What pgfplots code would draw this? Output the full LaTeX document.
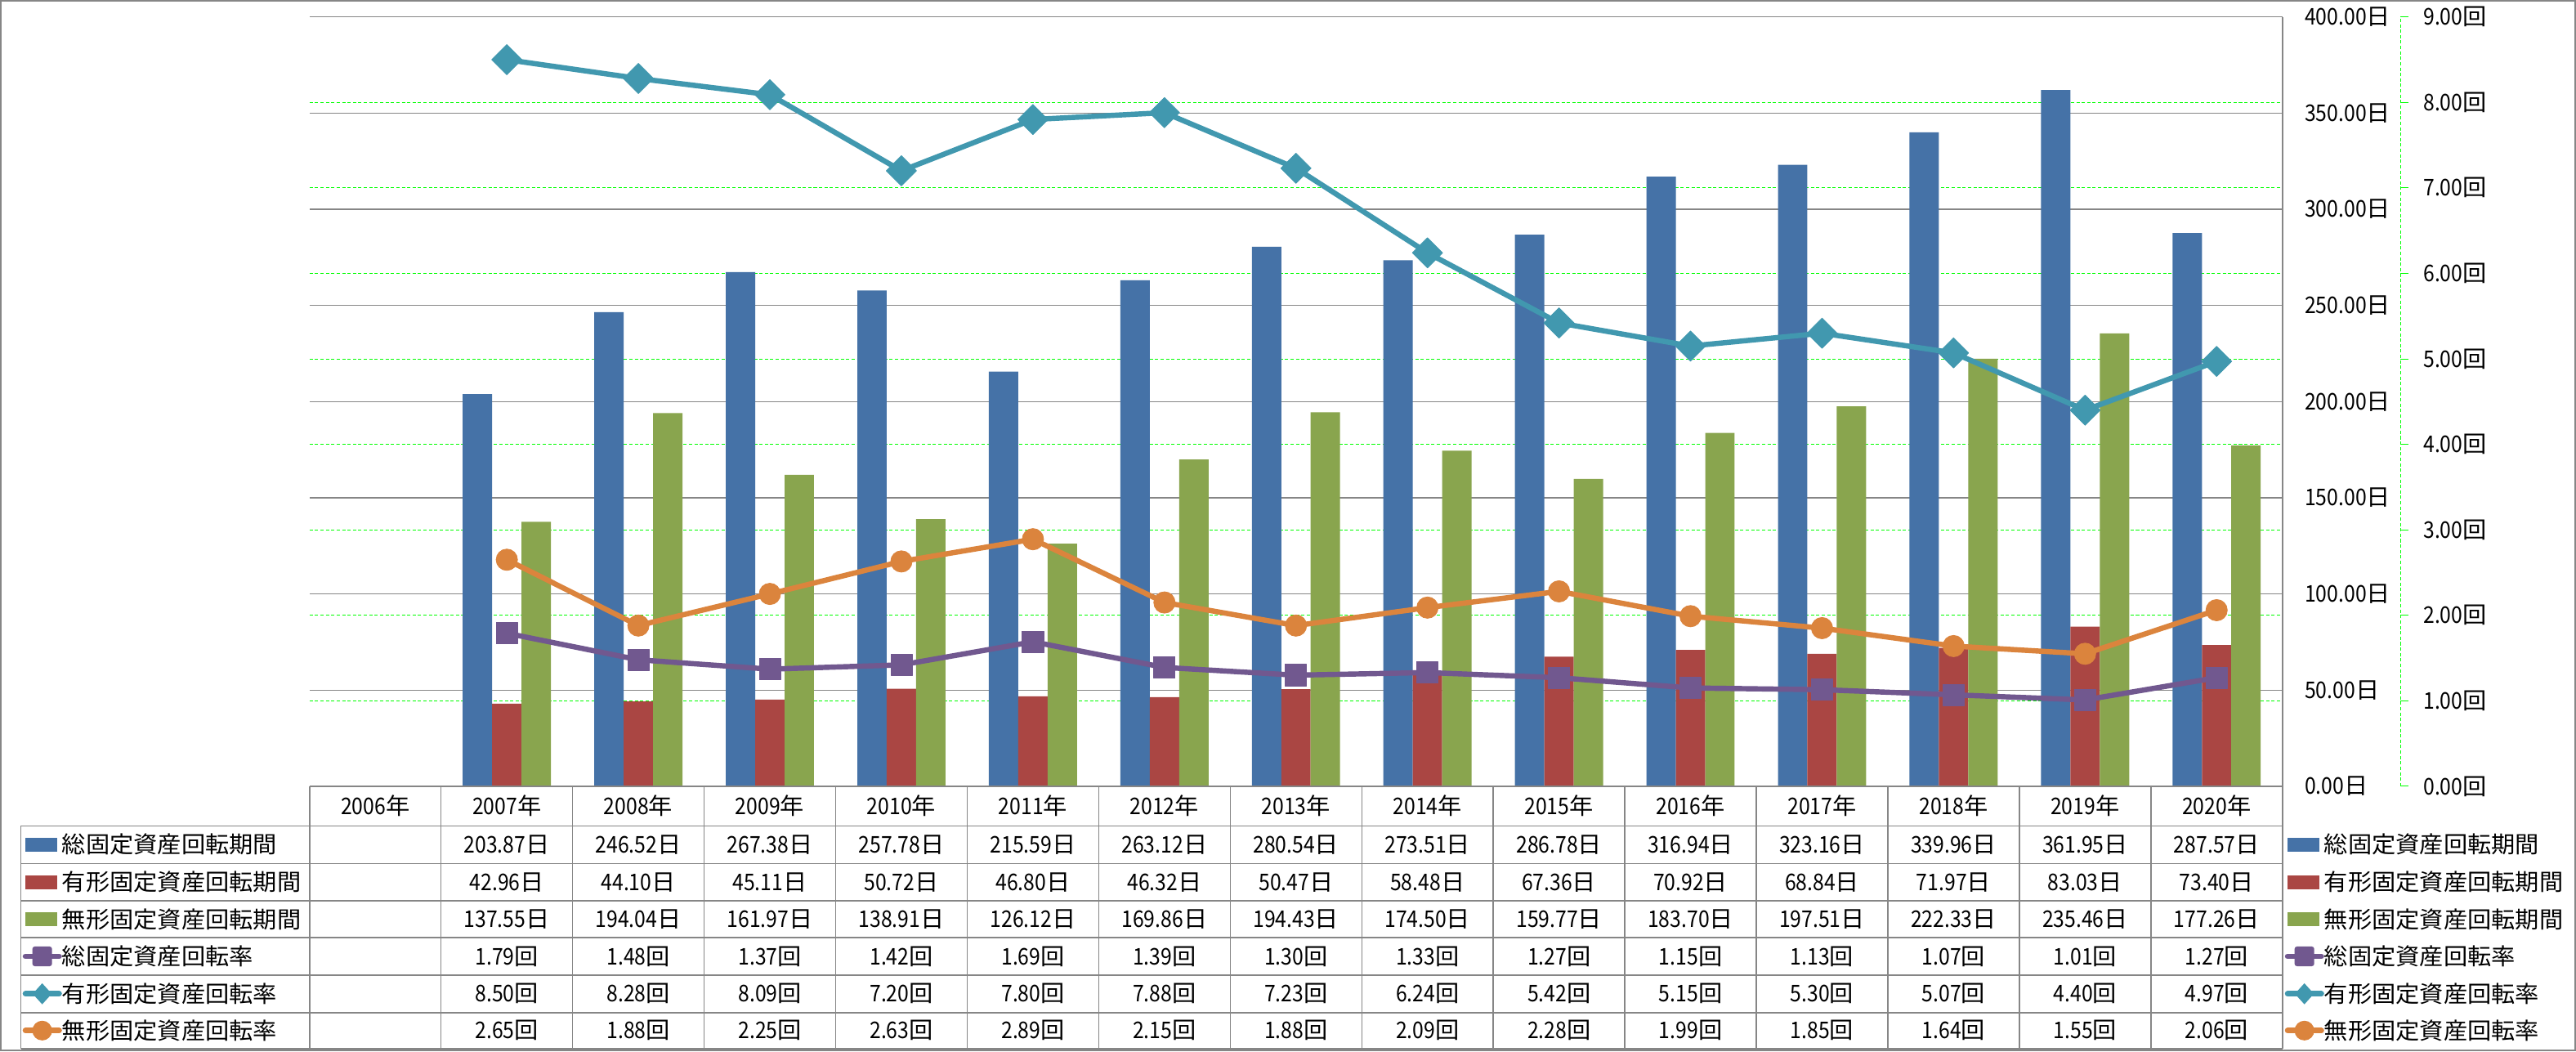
\documentclass[border=0pt]{standalone}
\usepackage{pgfplots}
\pgfplotsset{compat=1.18}
\usepackage{pgfplotstable}
\usepackage{fontspec}
\setmainfont{Noto Sans CJK JP}[FakeStretch=1.04]
\newfontfamily\numfont{Noto Sans CJK JP}[FakeStretch=0.88]
\newcommand\N[1]{{\numfont #1}}
\newcommand\tf{\fontsize{14pt}{16pt}\selectfont}
\definecolor{cblue}{HTML}{4572A7}
\definecolor{cred}{HTML}{AA4643}
\definecolor{cgreen}{HTML}{89A54E}
\definecolor{cpurple}{HTML}{71588F}
\definecolor{cteal}{HTML}{4198AF}
\definecolor{corange}{HTML}{DB843D}
\definecolor{cgrid}{RGB}{134,134,134}
\definecolor{clime}{RGB}{0,255,0}
\pgfkeys{/pgf/number format/.cd, fixed, fixed zerofill, precision=2, assume math mode=true}

\pgfplotstableread{
yr tot tan mu rtot rtan rmu
2007 203.87 42.96 137.55 1.79 8.50 2.65
2008 246.52 44.10 194.04 1.48 8.28 1.88
2009 267.38 45.11 161.97 1.37 8.09 2.25
2010 257.78 50.72 138.91 1.42 7.20 2.63
2011 215.59 46.80 126.12 1.69 7.80 2.89
2012 263.12 46.32 169.86 1.39 7.88 2.15
2013 280.54 50.47 194.43 1.30 7.23 1.88
2014 273.51 58.48 174.50 1.33 6.24 2.09
2015 286.78 67.36 159.77 1.27 5.42 2.28
2016 316.94 70.92 183.70 1.15 5.15 1.99
2017 323.16 68.84 197.51 1.13 5.30 1.85
2018 339.96 71.97 222.33 1.07 5.07 1.64
2019 361.95 83.03 235.46 1.01 4.40 1.55
2020 287.57 73.40 177.26 1.27 4.97 2.06
}\data

\newcommand\barkey[3]{\fill[#3] (#1,#2-4.15) rectangle ++(19.3,8.3);}
\newcommand\sqkey[2]{\draw[cpurple,line width=3.4pt,line cap=round] (#1,#2)--(#1+20.5,#2);
  \fill[cpurple,rounded corners=1.5pt] (#1+4.2,#2-6) rectangle ++(12,12);}
\newcommand\diakey[2]{\draw[cteal,line width=3.4pt,line cap=round] (#1,#2)--(#1+20.5,#2);
  \fill[cteal] (#1+10.2,#2+6.4) -- ++(5.8,-6.4) -- ++(-5.8,-6.4) -- ++(-5.8,6.4) -- cycle;}
\newcommand\cirkey[2]{\draw[corange,line width=3.4pt,line cap=round] (#1,#2)--(#1+20.5,#2);
  \fill[corange] (#1+10.2,#2) circle (6);}

\begin{document}
\begin{tikzpicture}[x=1pt,y=1pt]
\useasboundingbox (0,0) rectangle (1568.6,640);
\fill[white] (0,0) rectangle (1568.6,640);

% gridlines: gray every 50 days, green dashed every 1 time (400/9 days)
\begin{scope}[shift={(188.5,161.3)}]
\foreach \k in {1,...,8}
  \draw[clime, line width=0.5pt, dash pattern=on 2pt off 1.3pt] (0,{52.044*\k}) -- (1201.3,{52.044*\k});
\foreach \k in {0,...,8}
  \draw[cgrid, line width=0.75pt] (0,{58.55*\k}) -- (1201.3,{58.55*\k});
\end{scope}

\begin{axis}[
  at={(188.5pt,161.3pt)}, anchor=south west,
  width=1201.3pt, height=468.4pt, scale only axis,
  xmin=-0.5, xmax=14.5, ymin=0, ymax=400,
  axis line style={draw=none},
  major tick length=0pt,
  xtick={0,...,14},
  xticklabels={\N{2006}年,\N{2007}年,\N{2008}年,\N{2009}年,\N{2010}年,\N{2011}年,\N{2012}年,\N{2013}年,\N{2014}年,\N{2015}年,\N{2016}年,\N{2017}年,\N{2018}年,\N{2019}年,\N{2020}年},
  xticklabel style={font=\tf, anchor=center, yshift=-12.05pt, inner sep=0pt},
  ytick={0,50,...,400},
  yticklabel pos=right,
  yticklabel={\N{\pgfmathprintnumber{\tick}}日},
  yticklabel style={font=\tf, anchor=west, inner sep=0pt, xshift=13.5pt},
  ybar=0pt, bar width=17.9pt,
  clip=false,
]
\addplot[fill=cblue, draw=none] table[x expr=\thisrow{yr}-2006, y=tot]{\data};
\addplot[fill=cred, draw=none] table[x expr=\thisrow{yr}-2006, y=tan]{\data};
\addplot[fill=cgreen, draw=none] table[x expr=\thisrow{yr}-2006, y=mu]{\data};
\end{axis}

\begin{axis}[
  at={(188.5pt,161.3pt)}, anchor=south west,
  width=1201.3pt, height=468.4pt, scale only axis,
  xmin=-0.5, xmax=14.5, ymin=0, ymax=9,
  axis line style={draw=none},
  major tick length=0pt,
  xtick=\empty,
  ytick={0,...,9},
  yticklabel pos=right,
  yticklabel={\N{\pgfmathprintnumber{\tick}}回},
  yticklabel style={font=\tf, anchor=west, inner sep=0pt, xshift=85.7pt},
  clip=false,
]
\addplot[color=cpurple, line width=3.2pt, line join=round, mark=square*, mark size=6.5pt,
  mark options={line width=0.4pt, rounded corners=1.5pt}] table[x expr=\thisrow{yr}-2006, y=rtot]{\data};
\addplot[color=cteal, line width=3.2pt, line join=round, mark=square*, mark size=6.5pt,
  mark options={line width=0.4pt, rotate=45}] table[x expr=\thisrow{yr}-2006, y=rtan]{\data};
\addplot[color=corange, line width=3.2pt, line join=round, mark=*, mark size=6.5pt,
  mark options={line width=0.4pt}] table[x expr=\thisrow{yr}-2006, y=rmu]{\data};
\end{axis}

% secondary axis line (green dashed) and its ticks
\draw[clime, line width=0.5pt, dash pattern=on 2pt off 1.3pt] (1461.6,161.3) -- (1461.6,629.7);
\foreach \i in {0,...,9} \draw[clime, line width=0.5pt] (1461.6,{161.3+52.044*\i}) -- (1466.5,{161.3+52.044*\i});

% data table grid
\begin{scope}[draw=cgrid, line width=0.75pt]
\foreach \i in {0,...,15} \draw ({188.5+80.09*\i},1.6) -- ({188.5+80.09*\i},161.3);
\draw (188.5,161.3) -- (1389.8,161.3);
\draw (1389.8,1.6) -- (1389.8,629.7);
\draw (12.7,1.6) -- (12.7,137.2);
\foreach \y in {137.2,114.3,91.5,69.1,46.4,23.5,1.6} \draw (12.7,\y) -- (1389.8,\y);
\end{scope}

% table values
\foreach \r in {0,...,13}{
  \pgfmathsetmacro\cx{188.5+80.09*(\r+1.5)}
  \pgfplotstablegetelem{\r}{tot}\of\data
  \node[font=\tf,inner sep=0pt] at (\cx,125.75) {\N{\pgfmathprintnumber{\pgfplotsretval}}日};
  \pgfplotstablegetelem{\r}{tan}\of\data
  \node[font=\tf,inner sep=0pt] at (\cx,102.9) {\N{\pgfmathprintnumber{\pgfplotsretval}}日};
  \pgfplotstablegetelem{\r}{mu}\of\data
  \node[font=\tf,inner sep=0pt] at (\cx,80.3) {\N{\pgfmathprintnumber{\pgfplotsretval}}日};
  \pgfplotstablegetelem{\r}{rtot}\of\data
  \node[font=\tf,inner sep=0pt] at (\cx,57.75) {\N{\pgfmathprintnumber{\pgfplotsretval}}回};
  \pgfplotstablegetelem{\r}{rtan}\of\data
  \node[font=\tf,inner sep=0pt] at (\cx,34.95) {\N{\pgfmathprintnumber{\pgfplotsretval}}回};
  \pgfplotstablegetelem{\r}{rmu}\of\data
  \node[font=\tf,inner sep=0pt] at (\cx,12.55) {\N{\pgfmathprintnumber{\pgfplotsretval}}回};
}

% legends (left in table, right of table)
\foreach \lx/\tx in {15.5/37.5, 1393/1415}{
  \barkey{\lx}{125.75}{cblue}
  \barkey{\lx}{102.9}{cred}
  \barkey{\lx}{80.3}{cgreen}
  \sqkey{\lx}{57.75}
  \diakey{\lx}{34.95}
  \cirkey{\lx}{12.55}
  \node[font=\tf,anchor=west,inner sep=0pt] at (\tx,125.75) {総固定資産回転期間};
  \node[font=\tf,anchor=west,inner sep=0pt] at (\tx,102.9) {有形固定資産回転期間};
  \node[font=\tf,anchor=west,inner sep=0pt] at (\tx,80.3) {無形固定資産回転期間};
  \node[font=\tf,anchor=west,inner sep=0pt] at (\tx,57.75) {総固定資産回転率};
  \node[font=\tf,anchor=west,inner sep=0pt] at (\tx,34.95) {有形固定資産回転率};
  \node[font=\tf,anchor=west,inner sep=0pt] at (\tx,12.55) {無形固定資産回転率};
}

% outer chart border
\draw[cgrid, line width=1pt] (0.5,0.5) rectangle (1568.1,639.5);
\end{tikzpicture}
\end{document}
